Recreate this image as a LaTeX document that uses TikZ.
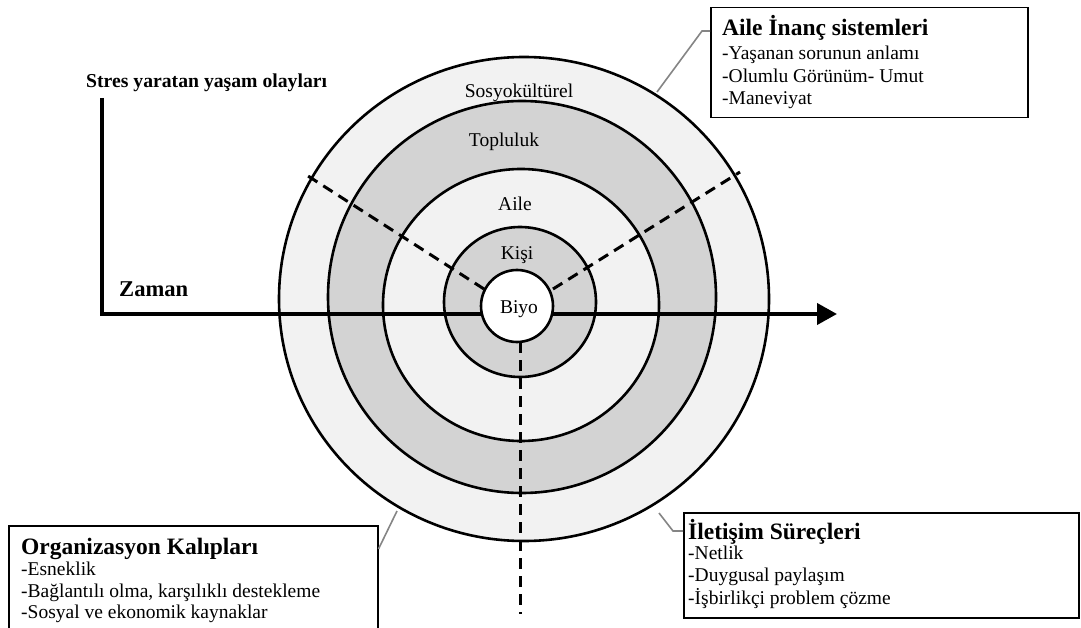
\documentclass[tikz,border=0pt]{standalone}
\usepackage{fontspec}
\setmainfont{Liberation Serif}
\usetikzlibrary{arrows.meta}

\definecolor{ringlight}{HTML}{F2F2F2}
\definecolor{ringdark}{HTML}{D3D3D3}
\definecolor{leader}{HTML}{858585}

\tikzset{
  ring/.style={draw=black, line width=2.6pt},
  axisline/.style={line width=4pt},
  sector/.style={line width=3pt, dash pattern=on 11pt off 7pt},
  callout/.style={draw=leader, line width=1.6pt},
  infobox/.style={draw=black, line width=1.5pt, fill=white, inner sep=0pt, anchor=north west},
  boxtitle/.style={inner sep=0pt, anchor=base west, font=\fontsize{23.5}{27}\selectfont\bfseries},
  boxitem/.style={inner sep=0pt, anchor=base west, font=\fontsize{19.5}{23}\selectfont},
  ringlabel/.style={inner sep=0pt, anchor=base, font=\fontsize{19.5}{23}\selectfont}
}

\begin{document}
\begin{tikzpicture}[x=1pt,y=-1pt]
\useasboundingbox (0,0) rectangle (1081,628);
\clip (0,0) rectangle (1081,628);
\fill[white] (0,0) rectangle (1081,628);

% nested levels, outside in
\fill[ringlight] (524,299) ellipse [x radius=245, y radius=242];
\fill[ringdark]  (522,297) ellipse [x radius=194, y radius=196];
\fill[ringlight] (521,305) ellipse [x radius=138, y radius=136];
\fill[ringdark]  (520,302) ellipse [x radius=76, y radius=75];

\draw[ring] (524,299) ellipse [x radius=245, y radius=242];
\draw[ring] (522,297) ellipse [x radius=194, y radius=196];
\draw[ring] (521,305) ellipse [x radius=138, y radius=136];
\draw[ring] (520,302) ellipse [x radius=76, y radius=75];

% time axis and stress axis
\coordinate (ytop) at (102,98);
\coordinate (corner) at (102,314);
\coordinate (xend) at (837,314);
\draw[axisline, -{Triangle[length=20pt,width=21pt]}] (ytop) -- (corner) -- (xend);

% sector dividers
\coordinate (sl) at (308,176);
\coordinate (sli) at (484,289);
\coordinate (sr) at (740,172);
\coordinate (sri) at (553,289);
\coordinate (sbi) at (520,342);
\coordinate (sb) at (520,614);
\draw[sector] (sli) -- (sl);
\draw[sector] (sri) -- (sr);
\draw[sector] (sbi) -- (sb);

% innermost level
\node[circle, draw=black, line width=2.6pt, fill=white, minimum size=72pt, inner sep=0pt] (biyo) at (517,306) {};

% level labels
\node[ringlabel] (lsos) at (519,98) {Sosyokültürel};
\node[ringlabel] (ltop) at (504,147) {Topluluk};
\node[ringlabel] (laile) at (515,211) {Aile};
\node[ringlabel] (lkisi) at (517,260) {Kişi};
\node[ringlabel] (lbiyo) at (519,313) {Biyo};

% axis labels
\node[inner sep=0pt, anchor=base west, font=\fontsize{19.7}{23}\selectfont\bfseries] (stres) at (86,88) {Stres yaratan yaşam olayları};
\node[inner sep=0pt, anchor=base west, font=\fontsize{22.6}{26}\selectfont\bfseries] (zaman) at (119,296) {Zaman};

% belief systems box
\node[infobox, minimum width=317pt, minimum height=110pt] (inanc) at (710,7) {};
\node[boxtitle] (inanct) at (722,36) {Aile İnanç sistemleri};
\node[boxitem] (inanc1) at (722,60) {-Yaşanan sorunun anlamı};
\node[boxitem] (inanc2) at (722,83) {-Olumlu Görünüm- Umut};
\node[boxitem] (inanc3) at (722,105) {-Maneviyat};

% organisation patterns box
\node[infobox, minimum width=369pt, minimum height=130pt] (org) at (8,525) {};
\node[boxtitle] (orgt) at (21,554) {Organizasyon Kalıpları};
\node[boxitem] (org1) at (21,575) {-Esneklik};
\node[boxitem] (org2) at (21,597) {-Bağlantılı olma, karşılıklı destekleme};
\node[boxitem] (org3) at (21,618) {-Sosyal ve ekonomik kaynaklar};

% communication processes box
\node[infobox, minimum width=395pt, minimum height=105pt] (ilet) at (683,512) {};
\node[boxtitle] (iletT) at (688,539) {İletişim Süreçleri};
\node[boxitem] (ilet1) at (688,559) {-Netlik};
\node[boxitem] (ilet2) at (688,581) {-Duygusal paylaşım};
\node[boxitem] (ilet3) at (688,604) {-İşbirlikçi problem çözme};

% callout leaders
\coordinate (c1) at (657,92);
\coordinate (c1k) at (702,31);
\draw[callout] (c1) -- (c1k) -- (inanc.west |- c1k);
\coordinate (c2) at (397,511);
\draw[callout] (c2) -- (org.east |- 0,549);
\coordinate (c3) at (659,513);
\coordinate (c3k) at (673,531);
\draw[callout] (c3) -- (c3k) -- (ilet.west |- c3k);
\end{tikzpicture}
\end{document}
